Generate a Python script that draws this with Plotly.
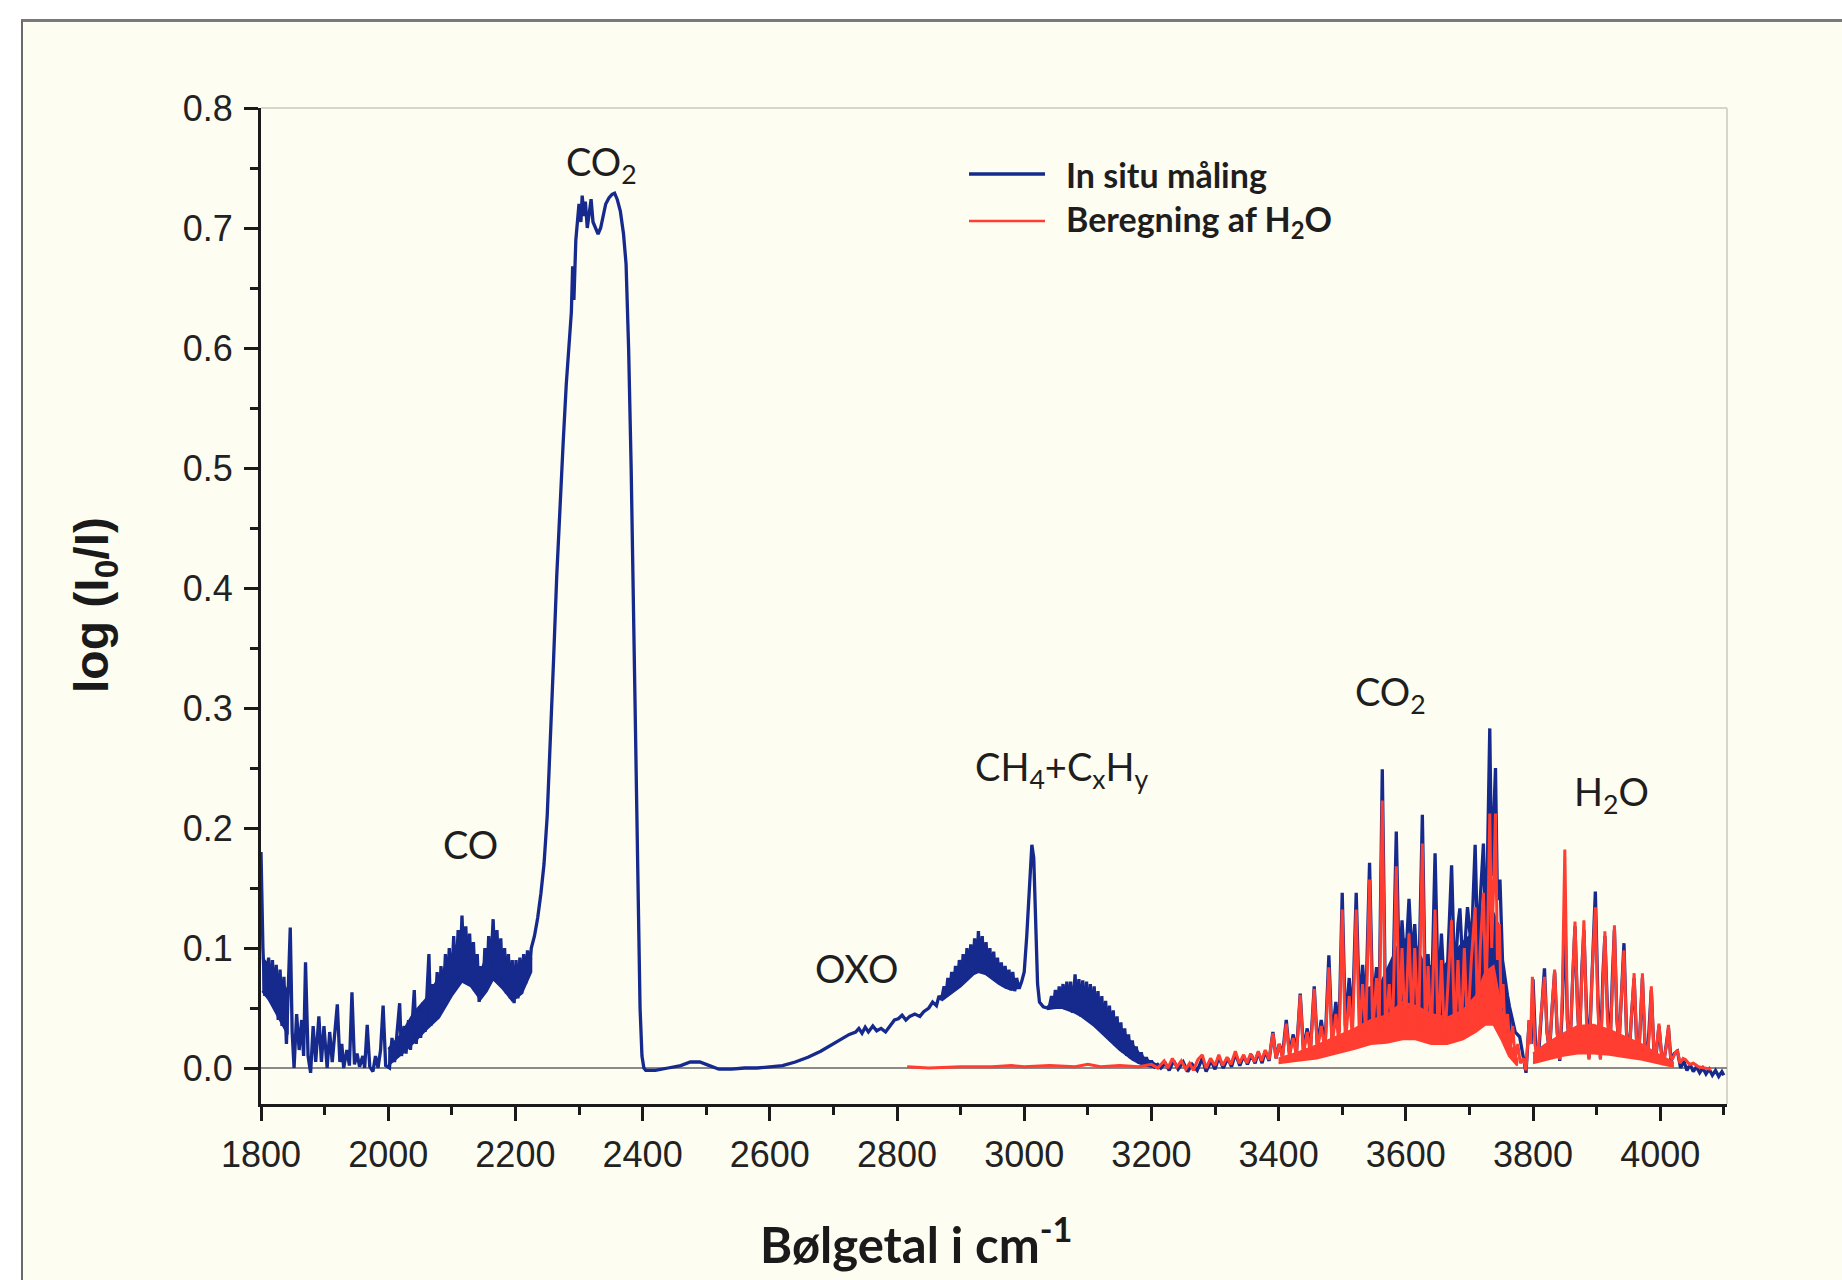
import plotly.graph_objects as go

# ---------------- data ----------------
# In situ måling (blue) – CO region 1800-2250 cm-1
blue_co_x = [1800, 1803, 1806, 1812, 1815, 1818, 1821, 1824, 1827, 1830, 1833, 1836, 1840, 1846, 1849, 1852,
             1856, 1860, 1864, 1867, 1870, 1874, 1878, 1882, 1886, 1891, 1895, 1899, 1904, 1908, 1912, 1920,
             1924, 1927, 1930, 1935, 1939, 1943, 1947, 1951, 1955, 1960, 1963, 1967, 1971, 1976, 1980, 1984,
             1988, 1992, 1996, 2002, 2006, 2010, 2014, 2018, 2021, 2025, 2028, 2032, 2035, 2039, 2041, 2044,
             2048, 2051, 2055, 2058, 2061, 2064, 2067, 2070, 2073, 2077, 2080, 2083, 2086, 2090, 2093, 2096,
             2099, 2103, 2106, 2110, 2113, 2116, 2119, 2122, 2125, 2128, 2131, 2134, 2137, 2140, 2143, 2146,
             2149, 2152, 2155, 2158, 2161, 2165, 2168, 2171, 2174, 2177, 2180, 2183, 2186, 2189, 2192, 2195,
             2198, 2201, 2204, 2207, 2210, 2213, 2216, 2219, 2222, 2225, 2230, 2235, 2240, 2245]
blue_co_y = [0.180, 0.100, 0.060, 0.092, 0.055, 0.090, 0.050, 0.086, 0.040, 0.082, 0.035, 0.076, 0.020, 0.117, 0.030, 0.000,
             0.045, 0.015, 0.040, 0.010, 0.088, 0.010, -0.004, 0.035, 0.005, 0.043, 0.005, 0.035, 0.000, 0.030, 0.005, 0.053,
             0.005, 0.020, 0.000, 0.015, 0.002, 0.063, 0.003, 0.012, 0.001, 0.010, 0.000, 0.036, 0.001, -0.003, 0.010, 0.000,
             0.015, 0.052, 0.002, 0.000, 0.025, 0.005, 0.030, 0.054, 0.010, 0.035, 0.012, 0.040, 0.015, 0.045, 0.065, 0.020,
             0.050, 0.025, 0.055, 0.030, 0.060, 0.095, 0.035, 0.070, 0.040, 0.080, 0.045, 0.085, 0.050, 0.095, 0.060, 0.100,
             0.065, 0.110, 0.070, 0.115, 0.080, 0.127, 0.085, 0.118, 0.080, 0.112, 0.075, 0.105, 0.068, 0.095, 0.055, 0.085,
             0.065, 0.100, 0.070, 0.110, 0.080, 0.124, 0.080, 0.115, 0.075, 0.108, 0.068, 0.100, 0.062, 0.095, 0.058, 0.090,
             0.054, 0.090, 0.058, 0.092, 0.062, 0.095, 0.070, 0.098, 0.080, 0.100, 0.110, 0.125, 0.145, 0.170]

# CO2 band 2250-2402 cm-1
blue_co2_x = [2250, 2255, 2260, 2265, 2270, 2275, 2280, 2285, 2288, 2290, 2292, 2295, 2298, 2300, 2303, 2305,
              2308, 2310, 2313, 2316, 2319, 2322, 2326, 2330, 2334, 2338, 2342, 2347, 2352, 2356, 2360, 2365,
              2370, 2374, 2378, 2382, 2386, 2390, 2393, 2396, 2399, 2402]
blue_co2_y = [0.210, 0.270, 0.340, 0.410, 0.470, 0.520, 0.570, 0.610, 0.630, 0.668, 0.640, 0.690, 0.710, 0.720, 0.705, 0.727,
              0.710, 0.722, 0.700, 0.715, 0.724, 0.705, 0.700, 0.695, 0.700, 0.710, 0.720, 0.725, 0.728, 0.729, 0.724, 0.714,
              0.695, 0.670, 0.600, 0.500, 0.370, 0.220, 0.120, 0.050, 0.010, 0.000]

# 2402-2862 cm-1 (flat part and OXO shoulder)
blue_mid_x = [2405, 2420, 2440, 2460, 2475, 2490, 2505, 2520, 2540, 2560, 2580, 2600, 2620, 2640, 2660, 2680,
              2700, 2715, 2725, 2735, 2740, 2745, 2750, 2755, 2762, 2768, 2775, 2782, 2790, 2796, 2802, 2808,
              2814, 2820, 2828, 2836, 2842, 2850, 2856, 2862]
blue_mid_y = [-0.002, -0.002, 0.000, 0.002, 0.005, 0.005, 0.002, -0.001, -0.001, 0.000, 0.000, 0.001, 0.002, 0.005, 0.009, 0.014,
              0.020, 0.025, 0.028, 0.030, 0.033, 0.029, 0.034, 0.030, 0.035, 0.031, 0.033, 0.030, 0.036, 0.040, 0.041, 0.044,
              0.040, 0.043, 0.045, 0.043, 0.047, 0.050, 0.055, 0.052]

# CH4 + CxHy band 2866-3215 cm-1
blue_ch_x = [2866, 2870, 2874, 2877, 2880, 2883, 2886, 2889, 2892, 2895, 2898, 2901, 2904, 2907, 2910, 2913,
             2916, 2919, 2922, 2925, 2928, 2931, 2934, 2937, 2940, 2943, 2946, 2949, 2952, 2955, 2958, 2961,
             2964, 2967, 2970, 2973, 2976, 2979, 2982, 2985, 2988, 2992, 2996, 3000, 3004, 3008, 3012, 3015,
             3018, 3021, 3024, 3030, 3036, 3040, 3043, 3046, 3049, 3052, 3055, 3058, 3061, 3064, 3067, 3070,
             3073, 3076, 3080, 3083, 3086, 3089, 3092, 3095, 3098, 3101, 3104, 3107, 3110, 3113, 3116, 3119,
             3122, 3125, 3128, 3131, 3134, 3137, 3140, 3143, 3146, 3149, 3152, 3155, 3158, 3161, 3164, 3167,
             3170, 3173, 3176, 3180, 3184, 3188, 3192, 3196, 3200, 3205, 3210, 3215]
blue_ch_y = [0.060, 0.057, 0.068, 0.060, 0.075, 0.063, 0.080, 0.066, 0.085, 0.068, 0.090, 0.070, 0.095, 0.073, 0.100, 0.076,
             0.103, 0.078, 0.108, 0.080, 0.114, 0.080, 0.110, 0.079, 0.105, 0.077, 0.100, 0.075, 0.097, 0.073, 0.092, 0.070,
             0.088, 0.068, 0.085, 0.066, 0.082, 0.065, 0.080, 0.064, 0.075, 0.066, 0.072, 0.080, 0.110, 0.155, 0.186, 0.175,
             0.120, 0.070, 0.055, 0.051, 0.050, 0.052, 0.060, 0.050, 0.065, 0.050, 0.068, 0.050, 0.070, 0.049, 0.072, 0.048,
             0.072, 0.046, 0.078, 0.045, 0.074, 0.043, 0.073, 0.041, 0.072, 0.039, 0.070, 0.037, 0.068, 0.034, 0.064, 0.031,
             0.060, 0.028, 0.056, 0.025, 0.052, 0.022, 0.048, 0.019, 0.043, 0.016, 0.038, 0.013, 0.033, 0.010, 0.028, 0.008,
             0.023, 0.006, 0.018, 0.004, 0.013, 0.003, 0.009, 0.002, 0.006, 0.001, 0.003, 0.000]

# CO2 + H2O lines 3222-4100 cm-1
blue_h2o_x = [3222, 3228, 3235, 3242, 3250, 3257, 3264, 3272, 3280, 3286, 3294, 3300, 3306, 3313, 3320, 3326,
              3332, 3339, 3345, 3351, 3357, 3363, 3368, 3374, 3379, 3385, 3391, 3396, 3401, 3406, 3412, 3417,
              3423, 3428, 3434, 3439, 3445, 3450, 3456, 3461, 3467, 3473, 3479, 3484, 3490, 3495, 3500, 3505,
              3511, 3516, 3522, 3527, 3532, 3537, 3543, 3548, 3554, 3558, 3563, 3568, 3574, 3579, 3585, 3590,
              3594, 3599, 3605, 3610, 3614, 3620, 3626, 3631, 3635, 3640, 3646, 3651, 3656, 3661, 3666, 3672,
              3677, 3682, 3685, 3690, 3697, 3703, 3709, 3713, 3717, 3722, 3726, 3729, 3732, 3735, 3738, 3741,
              3744, 3748, 3752, 3756, 3760, 3763, 3768, 3772, 3779, 3784, 3789, 3794, 3797, 3800, 3804, 3808,
              3813, 3818, 3822, 3826, 3830, 3834, 3838, 3842, 3846, 3850, 3854, 3858, 3862, 3866, 3870, 3873,
              3877, 3880, 3884, 3888, 3893, 3898, 3902, 3906, 3910, 3913, 3917, 3921, 3925, 3928, 3932, 3935,
              3939, 3943, 3947, 3951, 3955, 3959, 3963, 3966, 3969, 3972, 3976, 3980, 3986, 3990, 3993, 3998,
              4002, 4006, 4013, 4017, 4022, 4027, 4032, 4037, 4042, 4047, 4052, 4057, 4062, 4067, 4072, 4077,
              4082, 4087, 4092, 4097, 4100]
blue_h2o_y = [0.004, -0.002, 0.006, -0.001, 0.005, -0.003, 0.003, -0.002, 0.008, -0.003, 0.006, -0.001, 0.009, 0.000, 0.008, 0.001,
              0.012, 0.002, 0.010, 0.003, 0.011, 0.004, 0.013, 0.004, 0.014, 0.006, 0.030, 0.008, 0.020, 0.010, 0.040, 0.012,
              0.028, 0.012, 0.062, 0.015, 0.033, 0.015, 0.068, 0.018, 0.040, 0.018, 0.094, 0.025, 0.055, 0.030, 0.146, 0.035,
              0.075, 0.040, 0.146, 0.050, 0.086, 0.050, 0.171, 0.050, 0.084, 0.045, 0.249, 0.050, 0.073, 0.050, 0.197, 0.070,
              0.123, 0.080, 0.141, 0.090, 0.120, 0.060, 0.211, 0.050, 0.095, 0.045, 0.179, 0.060, 0.112, 0.060, 0.090, 0.169,
              0.070, 0.120, 0.133, 0.080, 0.134, 0.100, 0.186, 0.100, 0.140, 0.187, 0.100, 0.200, 0.283, 0.160, 0.200, 0.250,
              0.140, 0.157, 0.090, 0.073, 0.060, 0.051, 0.040, 0.030, 0.026, 0.010, -0.004, 0.040, 0.020, 0.074, 0.020, 0.005,
              0.040, 0.083, 0.030, 0.013, 0.050, 0.080, 0.030, 0.006, 0.050, 0.130, 0.040, 0.014, 0.070, 0.118, 0.050, 0.020,
              0.085, 0.115, 0.050, 0.008, 0.080, 0.147, 0.060, 0.008, 0.079, 0.110, 0.050, 0.015, 0.079, 0.115, 0.040, 0.018,
              0.060, 0.104, 0.030, 0.010, 0.045, 0.075, 0.020, 0.008, 0.040, 0.075, 0.020, 0.010, 0.065, 0.015, 0.008, 0.035,
              0.012, 0.006, 0.033, 0.006, 0.012, 0.014, 0.000, 0.006, -0.002, 0.003, -0.003, 0.001, -0.004, 0.000, -0.005, -0.001,
              -0.006, -0.002, -0.007, -0.003, -0.006]

# dense (unresolved) parts of the blue spectrum: upper / lower edge of the band
blue_band1_x = [1802, 1812, 1822, 1832, 1842]
blue_band1_hi = [0.092, 0.086, 0.080, 0.073, 0.064]
blue_band1_lo = [0.064, 0.057, 0.048, 0.038, 0.028]
blue_band2_x = [2000, 2020, 2040, 2060, 2080, 2100, 2116, 2130, 2145, 2155, 2165, 2180, 2195, 2210, 2225]
blue_band2_hi = [0.016, 0.028, 0.046, 0.058, 0.076, 0.094, 0.112, 0.097, 0.080, 0.094, 0.110, 0.094, 0.084, 0.085, 0.092]
blue_band2_lo = [0.002, 0.011, 0.021, 0.032, 0.042, 0.060, 0.072, 0.068, 0.057, 0.064, 0.074, 0.066, 0.056, 0.062, 0.080]
blue_band3_x = [2870, 2880, 2890, 2900, 2910, 2920, 2928, 2940, 2950, 2960, 2970, 2980, 2992]
blue_band3_hi = [0.059, 0.069, 0.078, 0.086, 0.092, 0.098, 0.103, 0.097, 0.090, 0.083, 0.078, 0.074, 0.070]
blue_band3_lo = [0.056, 0.060, 0.064, 0.068, 0.073, 0.078, 0.080, 0.078, 0.074, 0.070, 0.067, 0.065, 0.067]
blue_band4_x = [3036, 3050, 3060, 3070, 3080, 3090, 3100, 3110, 3120, 3130, 3140, 3150, 3160, 3170, 3180, 3190, 3200, 3212]
blue_band4_hi = [0.050, 0.060, 0.063, 0.065, 0.068, 0.066, 0.064, 0.061, 0.055, 0.048, 0.042, 0.035, 0.027, 0.020, 0.013, 0.008, 0.005, 0.002]
blue_band4_lo = [0.049, 0.050, 0.050, 0.048, 0.046, 0.043, 0.039, 0.035, 0.030, 0.025, 0.020, 0.015, 0.011, 0.007, 0.004, 0.002, 0.001, 0.000]
blue_band5_x = [3530, 3560, 3590, 3610, 3630, 3660, 3690, 3710, 3730, 3745, 3755, 3765]
blue_band5_hi = [0.065, 0.070, 0.105, 0.110, 0.085, 0.085, 0.105, 0.115, 0.140, 0.120, 0.070, 0.040]
blue_band5_lo = [0.030, 0.035, 0.050, 0.050, 0.040, 0.040, 0.050, 0.060, 0.070, 0.060, 0.030, 0.015]

# Beregning af H2O (red)
red_x = [2816, 2850, 2900, 2950, 2980, 3000, 3040, 3080, 3100, 3120, 3150, 3180, 3200, 3210, 3220, 3226,
         3233, 3240, 3247, 3254, 3260, 3266, 3273, 3280, 3286, 3293, 3300, 3306, 3312, 3319, 3325, 3332,
         3338, 3345, 3350, 3356, 3362, 3368, 3373, 3379, 3385, 3391, 3396, 3401, 3406, 3412, 3417, 3423,
         3428, 3434, 3439, 3445, 3450, 3456, 3461, 3467, 3473, 3479, 3484, 3490, 3495, 3500, 3505, 3511,
         3516, 3522, 3527, 3532, 3537, 3543, 3548, 3554, 3558, 3563, 3568, 3574, 3579, 3585, 3590, 3594,
         3599, 3605, 3610, 3614, 3620, 3626, 3631, 3635, 3640, 3646, 3651, 3656, 3661, 3666, 3672, 3677,
         3682, 3687, 3692, 3697, 3703, 3709, 3713, 3717, 3722, 3726, 3729, 3732, 3735, 3738, 3741, 3744,
         3747, 3750, 3753, 3756, 3760, 3764, 3768, 3772, 3776, 3780, 3785, 3789, 3794, 3796, 3799, 3803,
         3807, 3812, 3818, 3822, 3826, 3830, 3834, 3838, 3842, 3846, 3850, 3854, 3858, 3862, 3866, 3870,
         3873, 3877, 3880, 3884, 3888, 3893, 3898, 3902, 3906, 3910, 3913, 3917, 3921, 3925, 3928, 3932,
         3935, 3939, 3943, 3947, 3951, 3955, 3959, 3963, 3966, 3969, 3972, 3976, 3980, 3983, 3986, 3990,
         3993, 3998, 4002, 4006, 4010, 4013, 4016, 4019, 4023, 4027, 4031, 4036, 4040, 4046, 4052, 4060,
         4070, 4080]
red_y = [0.001, 0.000, 0.001, 0.001, 0.002, 0.001, 0.002, 0.001, 0.003, 0.001, 0.002, 0.001, 0.003, 0.000, 0.006, 0.000,
         0.008, 0.001, 0.006, -0.001, 0.004, -0.002, 0.007, 0.011, 0.000, 0.008, 0.002, 0.011, 0.002, 0.009, 0.003, 0.014,
         0.004, 0.011, 0.004, 0.012, 0.005, 0.014, 0.006, 0.015, 0.007, 0.029, 0.008, 0.020, 0.008, 0.037, 0.010, 0.025,
         0.010, 0.061, 0.012, 0.030, 0.012, 0.066, 0.015, 0.035, 0.014, 0.084, 0.018, 0.045, 0.020, 0.132, 0.020, 0.060,
         0.025, 0.132, 0.025, 0.070, 0.030, 0.157, 0.030, 0.075, 0.030, 0.223, 0.030, 0.070, 0.025, 0.168, 0.030, 0.100,
         0.030, 0.112, 0.035, 0.100, 0.030, 0.187, 0.025, 0.085, 0.025, 0.132, 0.020, 0.090, 0.020, 0.070, 0.123, 0.025,
         0.090, 0.025, 0.100, 0.030, 0.090, 0.134, 0.035, 0.100, 0.146, 0.060, 0.120, 0.212, 0.100, 0.150, 0.212, 0.090,
         0.120, 0.050, 0.070, 0.030, 0.045, 0.015, 0.035, 0.008, 0.020, 0.004, 0.008, -0.002, 0.040, 0.020, 0.076, 0.020,
         0.007, 0.040, 0.076, 0.030, 0.015, 0.050, 0.082, 0.030, 0.007, 0.060, 0.182, 0.040, 0.015, 0.070, 0.122, 0.050,
         0.020, 0.080, 0.123, 0.040, 0.007, 0.080, 0.134, 0.050, 0.007, 0.070, 0.114, 0.040, 0.015, 0.070, 0.119, 0.040,
         0.018, 0.060, 0.098, 0.030, 0.009, 0.045, 0.079, 0.020, 0.007, 0.040, 0.079, 0.020, 0.009, 0.030, 0.068, 0.015,
         0.009, 0.037, 0.012, 0.007, 0.020, 0.036, 0.010, 0.007, 0.012, 0.015, 0.004, 0.008, 0.007, 0.003, 0.004, 0.001,
         0.000, -0.001]

# dense (unresolved) parts of the red spectrum: upper / lower edge
red_band1_x = [3400, 3430, 3460, 3490, 3520, 3545, 3570, 3595, 3615, 3640, 3665, 3690, 3710, 3725, 3738, 3750, 3762, 3775]
red_band1_hi = [0.008, 0.013, 0.019, 0.026, 0.033, 0.040, 0.044, 0.055, 0.052, 0.045, 0.042, 0.048, 0.060, 0.080, 0.085, 0.050, 0.022, 0.008]
red_band1_lo = [0.004, 0.006, 0.008, 0.012, 0.016, 0.020, 0.021, 0.024, 0.024, 0.020, 0.020, 0.024, 0.030, 0.036, 0.036, 0.024, 0.010, 0.002]
red_band2_x = [3800, 3820, 3845, 3870, 3895, 3920, 3945, 3970, 3995, 4020]
red_band2_hi = [0.012, 0.020, 0.028, 0.035, 0.036, 0.032, 0.026, 0.020, 0.012, 0.005]
red_band2_lo = [0.004, 0.007, 0.010, 0.012, 0.012, 0.011, 0.009, 0.007, 0.004, 0.001]

# axis ticks
x_tickvals = [1800, 2000, 2200, 2400, 2600, 2800, 3000, 3200, 3400, 3600, 3800, 4000]
y_tickvals = [0.0, 0.1, 0.2, 0.3, 0.4, 0.5, 0.6, 0.7, 0.8]
y_ticktext = ["0.0", "0.1", "0.2", "0.3", "0.4", "0.5", "0.6", "0.7", "0.8"]

# band labels
label_text = ["CO<sub>2</sub>", "CO", "OXO", "CH<sub>4</sub>+C<sub>x</sub>H<sub>y</sub>", "CO<sub>2</sub>", "H<sub>2</sub>O"]
label_x = [2336, 2129, 2737, 3060, 3576, 3924]
label_y = [0.753, 0.187, 0.083, 0.249, 0.312, 0.228]

series_names = ["In situ måling", "Beregning af H<sub>2</sub>O"]

# ---------------- figure ----------------
BLUE = "#16298c"
RED = "#ff3d30"
CREAM = "#fefdf1"

blue_x = blue_co_x + blue_co2_x + blue_mid_x + blue_ch_x + blue_h2o_x
blue_y = blue_co_y + blue_co2_y + blue_mid_y + blue_ch_y + blue_h2o_y

fig = go.Figure()


def add_band(xs, hi, lo, color, name):
    fig.add_trace(go.Scatter(x=xs + xs[::-1], y=hi + lo[::-1], mode="lines", fill="toself",
                             fillcolor=color, line=dict(color=color, width=2),
                             name=name, showlegend=False, hoverinfo="skip"))


for bx, bh, bl in [(blue_band1_x, blue_band1_hi, blue_band1_lo),
                   (blue_band2_x, blue_band2_hi, blue_band2_lo),
                   (blue_band3_x, blue_band3_hi, blue_band3_lo),
                   (blue_band4_x, blue_band4_hi, blue_band4_lo),
                   (blue_band5_x, blue_band5_hi, blue_band5_lo)]:
    add_band(bx, bh, bl, BLUE, series_names[0])

fig.add_trace(go.Scatter(x=blue_x, y=blue_y, mode="lines", name=series_names[0],
                         line=dict(color=BLUE, width=3.3), showlegend=False))

for bx, bh, bl in [(red_band1_x, red_band1_hi, red_band1_lo),
                   (red_band2_x, red_band2_hi, red_band2_lo)]:
    add_band(bx, bh, bl, RED, series_names[1])

fig.add_trace(go.Scatter(x=red_x, y=red_y, mode="lines", name=series_names[1],
                         line=dict(color=RED, width=3.0), showlegend=False))

W, H = 1842, 1280
L, R, T, B = 261, 1727, 108, 1104
pw, ph = R - L, B - T


def px(X):
    return (X - L) / pw


def py(Y):
    return (B - Y) / ph


shapes = [
    # white margin outside the outer frame
    dict(type="rect", xref="paper", yref="paper", x0=px(0), x1=px(W), y0=py(19), y1=py(0),
         fillcolor="white", line_width=0, layer="above"),
    dict(type="rect", xref="paper", yref="paper", x0=px(0), x1=px(21), y0=py(H), y1=py(0),
         fillcolor="white", line_width=0, layer="above"),
    # outer frame
    dict(type="line", xref="paper", yref="paper", x0=px(21), x1=px(W), y0=py(20.5), y1=py(20.5),
         line=dict(color="#7a7a7a", width=3), layer="above"),
    dict(type="line", xref="paper", yref="paper", x0=px(22), x1=px(22), y0=py(H), y1=py(20.5),
         line=dict(color="#6a6a6a", width=2), layer="above"),
    # light top / right border of the plot box
    dict(type="line", xref="paper", yref="paper", x0=0, x1=1, y0=1, y1=1,
         line=dict(color="#d6d6cc", width=2), layer="below"),
    dict(type="line", xref="paper", yref="paper", x0=1, x1=1, y0=0, y1=1,
         line=dict(color="#d6d6cc", width=2), layer="below"),
    # legend samples
    dict(type="line", xref="paper", yref="paper", x0=px(969), x1=px(1045), y0=py(174), y1=py(174),
         line=dict(color=BLUE, width=3.5)),
    dict(type="line", xref="paper", yref="paper", x0=px(969), x1=px(1045), y0=py(221), y1=py(221),
         line=dict(color=RED, width=2.5)),
]

annotations = []
for t, xv, yv in zip(label_text, label_x, label_y):
    annotations.append(dict(x=xv, y=yv, xref="x", yref="y", text=t, showarrow=False,
                            font=dict(family="Lato, Carlito, sans-serif", size=38, color="#1e1e1e"),
                            xanchor="center", yanchor="middle"))
# legend text
annotations.append(dict(x=px(1064), y=py(174), xref="paper", yref="paper", text="<b>" + series_names[0] + "</b>",
                        showarrow=False, xanchor="left", yanchor="middle",
                        font=dict(family="Lato, sans-serif", size=34, color="#1e1e1e")))
annotations.append(dict(x=px(1064), y=py(221), xref="paper", yref="paper", text="<b>" + series_names[1] + "</b>",
                        showarrow=False, xanchor="left", yanchor="middle",
                        font=dict(family="Lato, sans-serif", size=34, color="#1e1e1e")))
# axis titles
annotations.append(dict(x=px(95), y=py(605), xref="paper", yref="paper", text="<b>log (I<sub>0</sub>/I)</b>",
                        showarrow=False, textangle=-90, xanchor="center", yanchor="middle",
                        font=dict(family="Liberation Sans, Arial, sans-serif", size=48, color="#1a1a1a")))
annotations.append(dict(x=px(916), y=py(1240), xref="paper", yref="paper", text="<b>Bølgetal i cm<sup>-1</sup></b>",
                        showarrow=False, xanchor="center", yanchor="middle",
                        font=dict(family="Lato, sans-serif", size=49, color="#1a1a1a")))

fig.update_layout(
    width=W, height=H,
    margin=dict(l=L, r=W - R, t=T, b=H - B, pad=0),
    paper_bgcolor=CREAM, plot_bgcolor=CREAM,
    showlegend=False,
    shapes=shapes, annotations=annotations,
    font=dict(family="Liberation Sans, Arial, sans-serif", size=36, color="#222222"),
)
fig.update_xaxes(range=[1800, 4105], tickmode="array", tickvals=x_tickvals,
                 ticks="outside", ticklen=14, tickwidth=3, tickcolor="#1a1a1a",
                 showline=True, linewidth=3, linecolor="#1a1a1a", showgrid=False, zeroline=False,
                 tickfont=dict(size=36, color="#222222"), ticklabelstandoff=3,
                 minor=dict(dtick=100, tick0=1800, ticks="outside", ticklen=8, tickwidth=3, tickcolor="#1a1a1a"))
fig.update_yaxes(range=[-0.03, 0.8], tickmode="array", tickvals=y_tickvals, ticktext=y_ticktext,
                 ticks="outside", ticklen=14, tickwidth=3, tickcolor="#1a1a1a",
                 showline=True, linewidth=3, linecolor="#1a1a1a", showgrid=False,
                 zeroline=True, zerolinecolor="#8a8a8a", zerolinewidth=2,
                 tickfont=dict(size=36, color="#222222"), ticklabelstandoff=4,
                 minor=dict(dtick=0.05, tick0=0, ticks="outside", ticklen=8, tickwidth=3, tickcolor="#1a1a1a"))

fig.write_html("out.html")
